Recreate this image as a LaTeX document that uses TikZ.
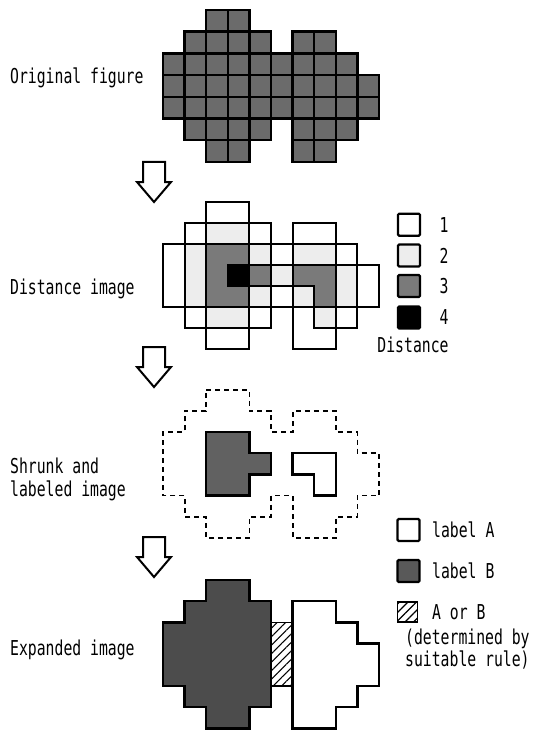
\documentclass[tikz,border=0pt]{standalone}
\usepackage{fontspec}
\newfontfamily\lbl[FakeStretch=0.72]{DejaVu Sans Mono}
\usetikzlibrary{patterns.meta}
\begin{document}
\begin{tikzpicture}[x=1pt,y=-1pt,
  lab/.style={font=\lbl\fontsize{20.5}{24}\selectfont, inner sep=0pt, anchor=west},
  origfill/.style={fill=black!58},
  origline/.style={draw=black, line width=2.4pt},
  lvtwo/.style={fill=black!7},
  lvthree/.style={fill=black!52},
  lvfour/.style={fill=black},
  edgeline/.style={line width=2pt, line cap=rect},
  dashout/.style={draw=black, line width=1.8pt, dash pattern=on 5pt off 4pt},
  solidout/.style={draw=black, line width=2.3pt, line join=miter},
  darkfill/.style={fill=black!62},
  hatchfill/.style={pattern={Lines[angle=45,distance=6pt,line width=1.1pt]}},
  legsq/.style={draw=black, line width=2.2pt, rounded corners=1.2pt, minimum size=22pt, inner sep=0pt},
  hollowarrow/.style={draw=black, fill=white, line width=2pt, line join=miter}]
\fill[white] (0,0) rectangle (544,730);
\useasboundingbox (0,0) rectangle (544,730);

% ---------- labels ----------
\node[lab] (t1) at (10,78) {Original figure};
\node[lab] (t2) at (10,289) {Distance image};
\node[lab] (t3a) at (10,466) {Shrunk and};
\node[lab] (t3b) at (10,491) {labeled image};
\node[lab] (t4) at (10,650) {Expanded image};

% ---------- arrows ----------
\foreach \y in {162,347,537}{
  \draw[hollowarrow] (143,\y) -- (165,\y) -- (165,\y+20) -- (171,\y+20) -- (154,\y+40) -- (137,\y+20) -- (143,\y+20) -- cycle;
}

% ---------- panel 1: original figure ----------
\begin{scope}[shift={(163,10)}, x=21.6pt, y=-21.7pt]
  \foreach \r/\cs in {0/{2,3},1/{1,2,3,4,6,7},2/{0,1,2,3,4,5,6,7,8},3/{0,1,2,3,4,5,6,7,8,9},4/{0,1,2,3,4,5,6,7,8,9},5/{1,2,3,4,6,7,8},6/{2,3,6,7}}{
    \foreach \c in \cs { \fill[origfill] (\c,\r) rectangle ++(1,1); }
  }
  \foreach \r/\cs in {0/{2,3},1/{1,2,3,4,6,7},2/{0,1,2,3,4,5,6,7,8},3/{0,1,2,3,4,5,6,7,8,9},4/{0,1,2,3,4,5,6,7,8,9},5/{1,2,3,4,6,7,8},6/{2,3,6,7}}{
    \foreach \c in \cs { \draw[origline] (\c,\r) rectangle ++(1,1); }
  }
\end{scope}

% ---------- panel 2: distance image ----------
\def\DA{{0,0,0,0,0,0,0,0,0,0,0,0,%
0,0,0,1,1,0,0,0,0,0,0,0,%
0,0,1,2,2,1,0,1,1,0,0,0,%
0,1,2,3,3,2,1,2,2,1,0,0,%
0,1,2,3,4,3,2,3,3,2,1,0,%
0,1,2,3,3,2,1,2,3,2,1,0,%
0,0,1,2,2,1,0,1,2,1,0,0,%
0,0,0,1,1,0,0,1,1,0,0,0,%
0,0,0,0,0,0,0,0,0,0,0,0}}
\begin{scope}[shift={(163,202)}, x=21.6pt, y=-21pt]
  \foreach \r in {0,...,6}{\foreach \c in {0,...,9}{
    \pgfmathtruncatemacro\vv{\DA[(\r+1)*12+\c+1]}
    \ifcase\vv\or\or \fill[lvtwo] (\c,\r) rectangle ++(1,1);
    \or \fill[lvthree] (\c,\r) rectangle ++(1,1);
    \or \fill[lvfour] (\c,\r) rectangle ++(1,1); \fi
  }}
  \foreach \r in {0,...,6}{\foreach \c in {-1,...,9}{
    \pgfmathtruncatemacro\va{\DA[(\r+1)*12+\c+1]}
    \pgfmathtruncatemacro\vb{\DA[(\r+1)*12+\c+2]}
    \ifnum\va=\vb\else \draw[edgeline] (\c+1,\r) -- (\c+1,\r+1); \fi
  }}
  \foreach \r in {-1,...,6}{\foreach \c in {0,...,9}{
    \pgfmathtruncatemacro\va{\DA[(\r+1)*12+\c+1]}
    \pgfmathtruncatemacro\vb{\DA[(\r+2)*12+\c+1]}
    \ifnum\va=\vb\else \draw[edgeline] (\c,\r+1) -- (\c+1,\r+1); \fi
  }}
\end{scope}

% legend 1
\node[legsq] (d1) at (409,224.7) {};
\node[legsq, lvtwo] (d2) at (409,255.5) {};
\node[legsq, lvthree] (d3) at (409,286) {};
\node[legsq, lvfour] (d4) at (409,317.5) {};
\node[lab, anchor=center] (n1) at (444,224.7) {1};
\node[lab, anchor=center] (n2) at (444,255.5) {2};
\node[lab, anchor=center] (n3) at (444,286) {3};
\node[lab, anchor=center] (n4) at (444,317.5) {4};
\node[lab, anchor=center] (dl) at (413,345) {Distance};

% ---------- panel 3: shrunk and labeled ----------
\begin{scope}[shift={(163,390)}, x=21.6pt, y=-21.1pt]
  \draw[dashout] (2,0) -- (4,0) -- (4,1) -- (5,1) -- (5,2) -- (6,2) -- (6,1) -- (8,1) -- (8,2) -- (9,2) -- (9,3) -- (10,3) -- (10,5) -- (9,5) -- (9,6) -- (8,6) -- (8,7) -- (6,7) -- (6,5) -- (5,5) -- (5,6) -- (4,6) -- (4,7) -- (2,7) -- (2,6) -- (1,6) -- (1,5) -- (0,5) -- (0,2) -- (1,2) -- (1,1) -- (2,1) -- cycle;
  \draw[solidout, darkfill] (2,2) -- (4,2) -- (4,3) -- (5,3) -- (5,4) -- (4,4) -- (4,5) -- (2,5) -- cycle;
  \draw[solidout, fill=white] (6,3) -- (8,3) -- (8,5) -- (7,5) -- (7,4) -- (6,4) -- cycle;
\end{scope}

% ---------- panel 4: expanded ----------
\begin{scope}[shift={(163,580)}, x=21.6pt, y=-21.2pt]
  \draw[line width=1.2pt, hatchfill] (5,2) rectangle (6,5);
  \draw[solidout, fill=black!70] (2,0) -- (4,0) -- (4,1) -- (5,1) -- (5,6) -- (4,6) -- (4,7) -- (2,7) -- (2,6) -- (1,6) -- (1,5) -- (0,5) -- (0,2) -- (1,2) -- (1,1) -- (2,1) -- cycle;
  \draw[solidout, fill=white] (6,1) -- (8,1) -- (8,2) -- (9,2) -- (9,3) -- (10,3) -- (10,5) -- (9,5) -- (9,6) -- (8,6) -- (8,7) -- (6,7) -- cycle;
\end{scope}

% legend 2
\node[legsq] (la) at (408.5,530) {};
\node[legsq, fill=black!65] (lb) at (408.5,571) {};
\node[legsq, hatchfill, minimum size=20pt, rounded corners=0pt, line width=1.6pt] (lh) at (407.5,612) {};
\node[lab] (ta) at (432,530) {label A};
\node[lab] (tb) at (432,571) {label B};
\node[lab] (th) at (432,612) {A or B};
\node[lab] (tr1) at (405,639) {(determined by};
\node[lab] (tr2) at (405,660) { suitable rule)};
\end{tikzpicture}
\end{document}
